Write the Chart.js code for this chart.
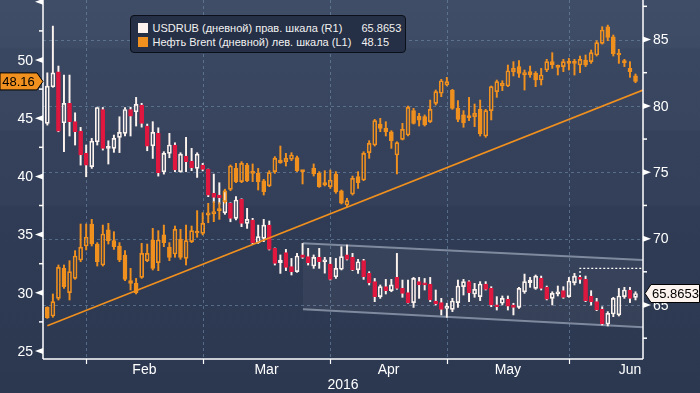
<!DOCTYPE html>
<html>
<head>
<meta charset="utf-8">
<script src="https://cdn.jsdelivr.net/npm/chart.js@4.4.1/dist/chart.umd.min.js"></script>
<style>
    body { margin: 0; background: #2e3a52; }
    #wrap { position: relative; width: 700px; height: 393px; overflow: hidden; }
    #legend {
        position: absolute; left: 130px; top: 15px; width: 274px; height: 36px;
        background: #252f45; border: 1.5px solid #0b0f19; border-radius: 4px;
        font: 11px "Liberation Sans", Arial, sans-serif; color: #f2f2f2;
    }
    .row { position: absolute; left: 0; height: 13px; line-height: 13px; white-space: nowrap; }
    .sw { position: absolute; left: 6.5px; width: 10px; height: 10px; }
    .txt { position: absolute; left: 21.5px; }
    .val { position: absolute; left: 230.5px; }
</style>
</head>
<body>
<div id="wrap">
    <canvas id="chart" width="700" height="393"></canvas>
    <div id="legend"></div>
</div>
<script>
// trading days shown on the chart
const days = [
    '2016-01-20','2016-01-21','2016-01-22','2016-01-25','2016-01-26','2016-01-27','2016-01-28','2016-01-29',
    '2016-02-01','2016-02-02','2016-02-03','2016-02-04','2016-02-05','2016-02-08','2016-02-09','2016-02-10','2016-02-11','2016-02-12',
    '2016-02-15','2016-02-16','2016-02-17','2016-02-18','2016-02-19','2016-02-22','2016-02-23','2016-02-24','2016-02-25','2016-02-26','2016-02-29',
    '2016-03-01','2016-03-02','2016-03-03','2016-03-04','2016-03-07','2016-03-08','2016-03-09','2016-03-10','2016-03-11','2016-03-14','2016-03-15',
    '2016-03-16','2016-03-17','2016-03-18','2016-03-21','2016-03-22','2016-03-23','2016-03-24','2016-03-25','2016-03-28','2016-03-29','2016-03-30','2016-03-31',
    '2016-04-01','2016-04-04','2016-04-05','2016-04-06','2016-04-07','2016-04-08','2016-04-11','2016-04-12','2016-04-13','2016-04-14','2016-04-15',
    '2016-04-18','2016-04-19','2016-04-20','2016-04-21','2016-04-22','2016-04-25','2016-04-26','2016-04-27','2016-04-28','2016-04-29',
    '2016-05-02','2016-05-03','2016-05-04','2016-05-05','2016-05-06','2016-05-09','2016-05-10','2016-05-11','2016-05-12','2016-05-13',
    '2016-05-16','2016-05-17','2016-05-18','2016-05-19','2016-05-20','2016-05-23','2016-05-24','2016-05-25','2016-05-26','2016-05-27','2016-05-30','2016-05-31',
    '2016-06-01','2016-06-02','2016-06-03','2016-06-06','2016-06-07','2016-06-08','2016-06-09','2016-06-10','2016-06-13','2016-06-14','2016-06-15','2016-06-16'
];
const monthNames = ['Jan','Feb','Mar','Apr','May','Jun','Jul','Aug','Sep','Oct','Nov','Dec'];
const yearLabel = '2016';

// USDRUB daily candles (right scale)
const rubOpen = [
    78.68,81.44,82.57,78.73,80.19,78.81,78.10,76.42,75.42,77.30,79.73,76.80,76.80,77.63,77.93,79.73,79.56,80.06,78.48,76.99,
    77.93,75.04,76.42,77.05,75.04,76.22,75.84,75.29,75.54,75.24,73.41,73.28,71.95,72.66,71.53,72.96,71.15,71.40,69.69,70.02,
    71.02,69.27,68.19,68.94,67.89,67.51,68.77,68.64,67.94,68.59,68.26,68.09,67.13,67.69,68.77,68.59,67.64,68.34,67.38,66.76,
    65.63,66.38,66.08,67.08,66.25,65.93,65.18,66.76,66.63,66.58,65.30,65.18,64.75,64.67,65.18,66.38,66.76,65.83,65.63,66.58,
    66.25,65.00,65.13,65.43,65.00,64.82,66.00,66.68,66.25,67.00,66.33,65.50,65.83,66.08,65.63,66.68,67.08,66.93,65.68,65.25,
    64.67,63.57,64.32,64.25,65.63,66.13,65.58
];
const rubHigh = [
    82.49,86.01,83.00,82.32,82.32,79.48,78.38,77.05,77.55,79.90,79.88,77.37,77.80,79.18,79.88,79.90,80.64,80.19,78.63,78.81,
    78.35,76.55,77.93,77.22,76.47,77.63,76.80,76.47,75.67,75.24,74.86,74.21,73.66,72.70,73.16,73.00,72.28,71.53,71.02,71.45,
    71.33,69.30,68.77,69.19,68.51,68.89,69.64,69.27,68.77,69.27,68.59,68.59,68.51,69.39,69.52,68.89,68.44,68.44,67.51,67.00,
    66.51,66.93,66.93,68.89,66.88,66.88,67.08,67.08,67.00,67.08,66.13,65.50,65.13,65.50,66.88,66.93,66.83,66.63,66.76,66.76,
    66.38,65.63,65.68,65.68,65.13,66.33,67.33,67.08,67.26,67.18,66.43,66.00,66.43,66.38,67.08,67.38,67.20,67.18,66.08,65.50,
    64.87,64.50,65.58,66.25,66.33,66.33,66.00
];
const rubLow = [
    78.55,81.40,78.05,76.55,77.73,77.05,75.54,74.66,75.29,77.05,76.67,75.62,76.50,76.48,77.73,77.73,78.48,78.40,76.62,76.04,
    74.71,74.86,76.09,75.04,75.00,75.04,75.12,74.61,75.10,73.16,72.71,72.60,71.83,71.27,71.40,70.90,70.77,69.59,69.64,69.77,
    69.14,68.01,67.38,67.59,67.26,67.46,68.51,68.01,67.76,67.76,67.40,66.88,67.00,67.64,68.39,67.59,67.38,66.93,66.51,65.25,
    65.50,65.83,66.00,66.18,65.58,65.13,64.82,65.50,66.13,65.25,65.00,64.25,64.07,64.50,64.82,65.75,65.25,65.58,65.33,66.13,
    64.87,64.62,65.00,64.62,64.25,64.75,65.88,66.33,66.18,66.13,65.38,65.00,65.68,65.50,65.58,66.51,66.63,65.25,65.00,64.57,
    63.49,63.42,64.12,64.17,65.50,65.18,65.38
];
const rubClose = [
    81.49,82.49,78.10,80.19,78.81,78.05,76.30,75.54,77.35,79.88,76.80,76.85,77.55,78.00,79.73,79.23,80.11,78.68,76.97,78.00,
    74.96,76.42,77.05,75.17,76.37,75.79,75.34,76.37,75.22,73.28,73.11,73.08,72.90,71.53,72.91,71.15,71.45,69.69,70.15,71.02,
    69.19,68.14,68.39,67.84,67.51,68.69,68.59,68.19,68.59,68.26,68.39,66.93,67.76,68.64,68.44,67.64,68.26,67.13,66.68,65.63,
    66.38,66.08,66.51,66.25,65.88,65.18,67.00,66.51,66.51,65.38,65.08,64.67,64.92,65.30,66.43,66.76,65.93,66.18,66.58,66.18,
    65.00,64.87,65.50,64.92,64.82,66.25,66.76,66.88,67.18,66.25,65.43,65.88,66.00,65.58,66.81,67.18,66.93,65.33,65.25,64.62,
    63.57,64.37,65.50,65.68,66.13,65.50,65.8653
];

// Brent daily candles (left scale); no Brent session on 2016-03-25
const brentOpen = [
    28.75,28.01,29.52,32.10,30.01,31.24,32.82,34.02,35.91,34.19,32.39,35.40,34.48,34.02,33.25,31.04,30.81,31.33,32.76,34.54,
    32.59,34.97,33.91,33.33,34.59,32.96,34.39,35.14,35.11,36.68,36.77,37.06,37.83,38.89,40.69,39.55,40.98,40.41,40.26,39.63,
    39.18,40.41,41.41,41.27,41.47,41.61,40.49,null,40.69,40.26,39.46,39.12,40.21,38.77,37.54,38.49,39.98,39.69,42.04,42.70,
    44.50,44.13,43.84,41.84,43.18,43.56,45.65,45.19,45.13,44.70,46.28,47.14,47.85,47.42,45.85,45.28,45.13,45.13,45.76,43.47,
    45.65,47.28,47.77,47.77,49.00,49.43,48.71,49.00,48.85,48.28,49.14,49.86,49.48,49.43,49.77,49.71,49.57,50.00,49.86,50.43,
    51.43,52.86,52.00,50.57,49.86,49.28,48.63
];
const brentHigh = [
    28.80,29.90,32.39,32.39,32.76,33.62,35.91,35.91,36.31,34.31,35.82,35.97,35.25,34.31,33.62,32.10,31.24,34.25,34.19,35.54,
    35.34,35.82,34.31,35.74,35.45,35.82,35.74,37.06,36.88,37.69,37.83,37.74,38.90,40.98,41.12,41.27,41.12,41.07,40.69,39.75,
    40.49,41.70,42.61,41.98,42.04,41.75,40.50,null,41.07,40.41,40.49,40.55,40.41,38.83,38.12,40.03,40.41,42.12,43.07,44.90,
    44.99,44.70,43.93,42.98,44.56,46.05,45.85,45.42,45.28,46.56,47.42,48.34,48.51,47.48,46.51,45.65,46.79,46.22,46.56,45.76,
    47.77,48.28,48.22,49.57,49.86,49.94,49.14,49.48,49.00,49.28,50.06,50.63,49.57,50.06,50.14,50.06,50.34,50.43,50.86,51.66,
    52.86,53.00,52.15,50.92,50.06,49.86,48.80
];
const brentLow = [
    27.80,27.90,29.38,30.38,29.38,31.16,32.67,33.68,34.02,32.30,32.30,34.19,33.73,32.67,31.04,30.24,29.90,31.24,32.67,31.96,
    31.90,33.96,32.76,33.05,32.88,32.39,34.31,34.77,34.97,36.02,36.11,36.31,37.70,38.77,39.46,39.46,39.55,39.55,38.83,38.40,
    39.12,40.26,41.12,40.89,41.35,40.41,39.35,null,40.03,39.06,39.18,38.97,38.55,37.63,37.40,38.40,38.97,39.63,41.55,42.61,
    43.84,43.47,42.41,40.21,43.13,43.47,44.50,44.33,44.33,44.62,46.13,46.85,47.77,45.76,44.70,44.22,44.79,44.27,43.47,43.36,
    44.85,46.79,47.37,47.71,48.63,48.51,47.42,48.51,47.71,47.85,49.00,49.28,48.71,49.00,49.14,48.71,48.91,49.43,49.71,50.34,
    51.37,51.66,50.34,49.71,49.43,48.51,48.05
];
const brentClose = [
    27.86,29.24,32.19,30.53,31.82,33.16,33.91,34.77,34.19,32.67,35.05,34.48,33.96,32.82,31.16,30.81,30.01,33.39,33.39,32.10,
    34.54,34.31,33.05,35.45,33.05,34.48,35.34,35.25,35.97,36.88,36.97,37.11,38.75,40.89,39.55,41.12,39.63,40.26,39.55,38.69,
    40.32,41.55,41.18,41.55,41.84,40.49,40.41,null,40.21,39.12,39.26,39.69,38.69,37.69,37.92,39.83,39.46,41.98,42.84,44.79,
    44.13,43.84,43.07,42.90,44.04,45.93,44.56,44.84,44.42,45.76,47.28,48.22,48.14,45.85,44.90,44.62,45.05,45.42,43.64,45.65,
    47.71,48.14,48.00,49.08,49.28,48.85,48.91,48.71,48.28,48.71,49.86,49.57,49.37,49.86,49.71,49.77,50.06,49.57,50.63,51.49,
    52.58,51.95,50.52,50.43,49.77,49.00,48.16
];

// annotations drawn on the chart (values, by trading-day index)
const brentTrend = { from: [0, 27.17], to: [107.35, 47.42] };
const rubChannelTop = { from: [46.07, 69.65], to: [107.35, 68.39] };
const rubChannelBottom = { from: [46.07, 64.68], to: [107.35, 63.32] };
const rubResistance = { x: [96, 96, 107.35], y: [67.10, 67.76, 67.76] };

const brentTicks = [25, 30, 35, 40, 45, 50, 55];
const rubTicks = [60, 65, 70, 75, 80, 85];
const legendNames = ['USDRUB (дневной) прав. шкала (R1)', 'Нефть Brent (дневной) лев. шкала (L1)'];
const legendValues = ['65.8653', '48.15'];

const WHITE = '#fdf3ee';
const RED = '#e0173f';
const ORANGE = '#f0901e';
const GRID = 'rgba(112,142,172,0.6)';
const FONT = '"Liberation Sans", Arial, sans-serif';

const xMin = -0.78, xMax = 107.35;

// month ends (last trading day of each month) and label centres
const monthEnds = [];
days.forEach((d, i) => {
    if (i < days.length - 1 && days[i + 1].slice(5, 7) !== d.slice(5, 7)) monthEnds.push(i);
});
const weekdaysIn = (y, m) => {
    let n = 0;
    for (let d = new Date(Date.UTC(y, m, 1)); d.getUTCMonth() === m; d.setUTCDate(d.getUTCDate() + 1)) {
        const wd = d.getUTCDay();
        if (wd !== 0 && wd !== 6) n++;
    }
    return n;
};
const monthLabels = [];
monthEnds.forEach((e, k) => {
    if (k === 0) return;
    monthLabels.push({ text: monthNames[+days[e].slice(5, 7) - 1], at: (monthEnds[k - 1] + e) / 2 });
});
{
    const last = days[days.length - 1];
    const m = +last.slice(5, 7) - 1;
    const end = monthEnds[monthEnds.length - 1];
    monthLabels.push({ text: monthNames[m], at: end + weekdaysIn(2016, m) / 2 });
}

const buildCandles = (open, high, low, close, axis, upColor, downColor, wickColor, order) => {
    const bodies = [], upper = [], lower = [], fills = [], borders = [];
    open.forEach((o, i) => {
        if (o === null) return;
        const c = close[i];
        bodies.push({ x: i, y: [o, c] });
        fills.push(c >= o ? 'rgba(0,0,0,0)' : downColor);
        borders.push(c >= o ? upColor : downColor);
        upper.push({ x: i, y: [Math.max(o, c), high[i]] });
        lower.push({ x: i, y: [low[i], Math.min(o, c)] });
    });
    const wick = data => ({
        type: 'bar', data, yAxisID: axis, order, grouped: false,
        barThickness: 1.3, backgroundColor: wickColor, borderWidth: 0
    });
    return [
        {
            type: 'bar', data: bodies, yAxisID: axis, order, grouped: false,
            barThickness: 4, minBarLength: 2, backgroundColor: fills, borderColor: borders,
            borderWidth: 1, borderSkipped: false
        },
        wick(upper),
        wick(lower)
    ];
};

const segment = (seg, axis, color, width, order, extra) => Object.assign({
    type: 'line', yAxisID: axis, order,
    data: [{ x: seg.from[0], y: seg.from[1] }, { x: seg.to[0], y: seg.to[1] }],
    borderColor: color, borderWidth: width, pointRadius: 0, fill: false
}, extra || {});

const datasets = [
    segment(brentTrend, 'yL', ORANGE, 1.6, 0),
    {
        type: 'line', yAxisID: 'yR', order: 0,
        data: rubResistance.x.map((x, i) => ({ x, y: rubResistance.y[i] })),
        borderColor: '#ffffff', borderWidth: 1.3, borderDash: [2, 2], pointRadius: 0, fill: false
    },
    ...buildCandles(brentOpen, brentHigh, brentLow, brentClose, 'yL', ORANGE, ORANGE, ORANGE, 1),
    ...buildCandles(rubOpen, rubHigh, rubLow, rubClose, 'yR', WHITE, RED, WHITE, 2),
    segment(rubChannelTop, 'yR', 'rgba(190,200,218,0.55)', 2, 3),
    segment(rubChannelBottom, 'yR', 'rgba(190,200,218,0.55)', 2, 3,
        { fill: '-1', backgroundColor: 'rgba(255,255,255,0.045)' })
];

const line = (ctx, x1, y1, x2, y2) => {
    ctx.beginPath(); ctx.moveTo(x1, y1); ctx.lineTo(x2, y2); ctx.stroke();
};

const bloombergFrame = {
    id: 'bloombergFrame',
    beforeDraw(chart) {
        const { ctx, chartArea: a, scales } = chart;
        const g = ctx.createLinearGradient(0, 0, 0, chart.height);
        g.addColorStop(0, '#404d67');
        g.addColorStop(0.12, '#3e4b65');
        g.addColorStop(0.125, '#3a4761');
        g.addColorStop(0.33, '#39455f');
        g.addColorStop(0.335, '#35415b');
        g.addColorStop(0.52, '#344059');
        g.addColorStop(0.527, '#303c55');
        g.addColorStop(1, '#2c3850');
        ctx.fillStyle = g;
        ctx.fillRect(0, 0, chart.width, chart.height);

        ctx.save();
        ctx.strokeStyle = GRID;
        ctx.lineWidth = 1;
        ctx.setLineDash([3, 3]);
        rubTicks.forEach(v => {
            const y = Math.round(scales.yR.getPixelForValue(v)) + 0.5;
            if (y > a.top && y < a.bottom) line(ctx, a.left, y, a.right, y);
        });
        monthEnds.forEach(i => {
            const x = Math.round(scales.x.getPixelForValue(i)) + 0.5;
            line(ctx, x, a.top, x, a.bottom);
        });
        ctx.restore();
    },
    afterDraw(chart) {
        const { ctx, chartArea: a, scales } = chart;
        ctx.save();
        ctx.strokeStyle = '#ffffff';
        ctx.fillStyle = '#ffffff';
        ctx.lineWidth = 1.5;
        line(ctx, a.left, 0, a.left, a.bottom);
        line(ctx, a.right, 0, a.right, a.bottom);
        line(ctx, a.left, a.bottom, a.right, a.bottom);

        ctx.font = '14px ' + FONT;
        ctx.textBaseline = 'middle';
        // left scale (Brent)
        brentTicks.forEach(v => {
            const y = scales.yL.getPixelForValue(v);
            if (y < -4 || y > a.bottom + 4) return;
            ctx.beginPath();
            ctx.moveTo(a.left, y - 3); ctx.lineTo(a.left - 8, y); ctx.lineTo(a.left, y + 3);
            ctx.closePath(); ctx.fill();
            if (y > 7) { ctx.textAlign = 'right'; ctx.fillText(String(v), a.left - 10, y + 1); }
            const m = scales.yL.getPixelForValue(v + 2.5);
            if (m > 0 && m < a.bottom) line(ctx, a.left - 4, m, a.left, m);
        });
        // right scale (USDRUB)
        rubTicks.forEach(v => {
            const y = scales.yR.getPixelForValue(v);
            const m = scales.yR.getPixelForValue(v + 2.5);
            if (m > 0 && m < a.bottom) line(ctx, a.right, m, a.right + 4, m);
            if (y < -4 || y > a.bottom + 4) return;
            ctx.beginPath();
            ctx.moveTo(a.right, y - 3); ctx.lineTo(a.right + 8, y); ctx.lineTo(a.right, y + 3);
            ctx.closePath(); ctx.fill();
            ctx.textAlign = 'left';
            ctx.fillText(String(v), a.right + 10, y + 1);
        });
        // time axis
        ctx.lineWidth = 1.2;
        monthEnds.forEach(i => {
            const x = Math.round(scales.x.getPixelForValue(i)) + 0.5;
            line(ctx, x, a.bottom, x, a.bottom + 5);
        });
        ctx.textAlign = 'center';
        monthLabels.forEach(l => {
            if (l.at < xMin || l.at > xMax) return;
            ctx.fillText(l.text, scales.x.getPixelForValue(l.at), a.bottom + 11);
        });
        ctx.fillText(yearLabel, scales.x.getPixelForValue((xMin + xMax) / 2), a.bottom + 26);

        // last-value tags
        ctx.font = '13px ' + FONT;
        ctx.strokeStyle = '#000000';
        ctx.lineWidth = 1;
        const lastB = brentClose[brentClose.length - 1];
        let c = scales.yL.getPixelForValue(lastB);
        ctx.beginPath();
        ctx.moveTo(0, c - 8.5); ctx.lineTo(a.left - 6, c - 8.5); ctx.lineTo(a.left, c);
        ctx.lineTo(a.left - 6, c + 8.5); ctx.lineTo(0, c + 8.5); ctx.closePath();
        ctx.fillStyle = ORANGE; ctx.fill(); ctx.stroke();
        ctx.fillStyle = '#000000';
        ctx.textAlign = 'center';
        ctx.fillText(lastB.toFixed(2), (a.left - 6) / 2, c + 1);

        const lastR = rubClose[rubClose.length - 1];
        c = scales.yR.getPixelForValue(lastR);
        ctx.beginPath();
        ctx.moveTo(a.right + 2, c); ctx.lineTo(a.right + 8, c - 9); ctx.lineTo(chart.width - 0.5, c - 9);
        ctx.lineTo(chart.width - 0.5, c + 9); ctx.lineTo(a.right + 8, c + 9); ctx.closePath();
        ctx.fillStyle = WHITE; ctx.fill(); ctx.stroke();
        ctx.fillStyle = '#000000';
        ctx.textAlign = 'left';
        ctx.fillText(lastR.toFixed(4), a.right + 9, c + 1);
        ctx.restore();
    }
};

new Chart(document.getElementById('chart'), {
    type: 'bar',
    data: { datasets },
    options: {
        responsive: false,
        animation: false,
        devicePixelRatio: 1,
        layout: { padding: { left: 43, right: 57, top: 0, bottom: 34 } },
        plugins: { legend: { display: false }, tooltip: { enabled: false } },
        scales: {
            x: { type: 'linear', min: xMin, max: xMax, display: false, offset: false },
            yL: { type: 'linear', position: 'left', min: 24.313, max: 55.155, display: false },
            yR: { type: 'linear', position: 'right', min: 60.932, max: 87.976, display: false }
        }
    },
    plugins: [bloombergFrame]
});

// legend box
const legend = document.getElementById('legend');
[WHITE, ORANGE].forEach((color, i) => {
    const row = document.createElement('div');
    row.className = 'row';
    row.style.top = (6 + i * 13.5) + 'px';
    row.style.width = '100%';
    row.innerHTML = `<span class="sw" style="background:${color};top:1px"></span>` +
        `<span class="txt">${legendNames[i]}</span><span class="val">${legendValues[i]}</span>`;
    legend.appendChild(row);
});
</script>
</body>
</html>
